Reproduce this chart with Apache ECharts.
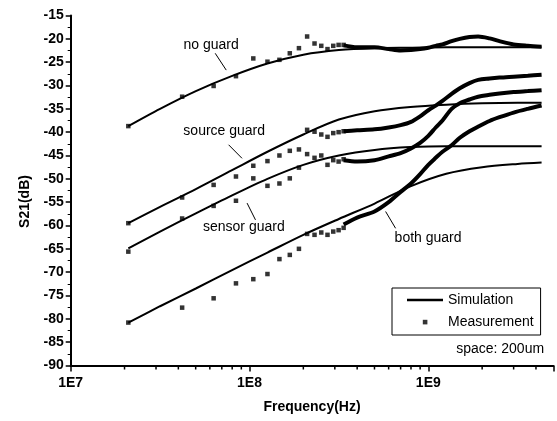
<!DOCTYPE html>
<html><head><meta charset="utf-8">
<script src="https://cdn.jsdelivr.net/npm/echarts@6/dist/echarts.min.js"></script>
<style>html,body{margin:0;padding:0;background:#fff}#c{width:557px;height:421px}</style>
</head><body><div id="c"></div>
<script>
// ---- measured discrete points (linear sweep, 21 MHz steps) ----
const measFreq = [2.1e7, 4.2e7, 6.3e7, 8.4e7, 1.05e8, 1.26e8, 1.47e8, 1.68e8, 1.89e8, 2.1e8, 2.31e8, 2.52e8, 2.73e8, 2.94e8, 3.15e8, 3.36e8];
const noGuardMeas  = [-38.7, -32.4, -30.1, -28.0, -24.2, -24.9, -24.5, -23.1, -22.0, -19.5, -21.0, -21.5, -22.2, -21.5, -21.3, -21.3];
const sourceMeas   = [-59.5, -54.0, -51.3, -49.5, -47.2, -46.2, -45.0, -44.0, -43.7, -39.5, -39.9, -40.5, -41.0, -40.2, -40.0, -39.8];
const sensorMeas   = [-65.6, -58.5, -55.8, -54.7, -49.9, -51.5, -51.0, -49.9, -47.6, -44.7, -45.5, -45.0, -47.0, -46.0, -46.3, -45.8];
const bothMeas     = [-80.8, -77.6, -75.6, -72.4, -71.5, -70.4, -67.2, -66.3, -65.0, -61.8, -62.0, -61.5, -62.0, -61.3, -61.0, -60.5];

// ---- measured dense part (drawn as thick trace) ----
const denseFreq = [3.36e8, 4e8, 5e8, 6e8, 7e8, 8e8, 9e8, 1e9, 1.1e9, 1.2e9, 1.35e9, 1.5e9, 1.7e9, 1.9e9, 2.2e9, 2.5e9, 3e9, 3.6e9, 4.3e9];
const noGuardDense = [-21.4, -21.8, -21.8, -22.2, -22.5, -22.4, -22.2, -21.9, -21.5, -21.2, -20.5, -20.0, -19.6, -19.5, -19.9, -20.5, -21.2, -21.5, -21.7];
const sourceDense  = [-39.8, -39.6, -39.4, -39.0, -38.5, -37.8, -36.6, -35.3, -34.3, -33.3, -31.8, -30.6, -29.5, -28.8, -28.5, -28.3, -28.1, -27.9, -27.7];
const sensorDense  = [-46.0, -46.3, -46.0, -45.2, -44.5, -43.5, -42.3, -40.8, -39.0, -37.5, -35.0, -33.8, -33.0, -32.4, -32.0, -31.7, -31.4, -31.2, -31.0];
const bothDense    = [-59.8, -58.3, -57.0, -55.0, -52.8, -51.0, -49.0, -47.0, -45.5, -44.2, -42.8, -41.2, -39.8, -38.8, -37.6, -36.8, -35.8, -35.0, -34.3];

// ---- simulation ----
const simFreq = [2.1e7, 3.16e7, 5.01e7, 7.94e7, 1.26e8, 2.0e8, 3.16e8, 5.01e8, 7.94e8, 1.26e9, 2.0e9, 3.16e9, 4.3e9];
const noGuardSim = [-38.7, -35.0, -31.2, -28.0, -25.3, -23.4, -22.4, -22.0, -21.9, -21.8, -21.8, -21.8, -21.8];
const sourceSim  = [-59.5, -56.0, -52.2, -48.2, -44.2, -40.5, -37.3, -35.5, -34.6, -34.1, -33.8, -33.7, -33.7];
const sensorSim  = [-64.9, -61.3, -57.4, -53.6, -50.0, -47.0, -45.0, -43.8, -43.2, -43.0, -43.0, -43.0, -43.0];
const bothSim    = [-80.8, -77.3, -73.5, -69.6, -65.8, -62.0, -58.6, -55.3, -51.6, -48.9, -47.5, -46.8, -46.5];

// ---- axis ticks / labels ----
const yTickStep = 5;
const minorTickFreq = [2e7,3e7,4e7,5e7,6e7,7e7,8e7,9e7,2e8,3e8,4e8,5e8,6e8,7e8,8e8,9e8,2e9,3e9,4e9];

// ---- annotation texts (data coordinates) ----
const labelTexts = ['no guard', 'source guard', 'sensor guard', 'both guard'];
const labelAt = [[6.1e7, -21.3], [7.22e7, -39.75], [9.3e7, -60.4], [9.97e8, -62.7]];
const arrowFrom = [[6.43e7, -23.1], [7.64e7, -42.7], [1.08e8, -58.8], [5.77e8, -57.0]];
const arrowTo   = [[7.41e7, -26.7], [9.08e7, -45.6], [9.69e7, -55.2], [6.56e8, -60.6]];
const noteText = 'space: 200um';
const noteAt = [4.44e9, -86.45];

const FONT = '"Liberation Sans", Arial, sans-serif';
const pairs = (xs, ys) => xs.map((x, i) => [x, ys[i]]);

const chart = echarts.init(document.getElementById('c'), null, {renderer: 'canvas'});

const simSeries = [noGuardSim, sourceSim, sensorSim, bothSim].map(v => ({
  type: 'line', name: 'Simulation', data: pairs(simFreq, v), smooth: 0.3,
  symbol: 'none', color: '#000', lineStyle: {color: '#000', width: 2}, z: 3, silent: true
}));
const measSeries = [noGuardMeas, sourceMeas, sensorMeas, bothMeas].map(v => ({
  type: 'scatter', name: 'Measurement', data: pairs(measFreq, v), symbol: 'rect', symbolSize: 4.5,
  color: '#000', itemStyle: {color: '#000'}, z: 4, silent: true
}));
const denseSeries = [noGuardDense, sourceDense, sensorDense, bothDense].map(v => ({
  type: 'line', name: 'Measurement', data: pairs(denseFreq, v), smooth: 0.3,
  symbol: 'none', color: '#000', lineStyle: {color: '#000', width: 4}, z: 4, silent: true
}));

chart.setOption({
  animation: false,
  backgroundColor: '#fff',
  grid: {left: 70.7, right: 3.7, top: 15.5, bottom: 55.5, containLabel: false, outerBoundsMode: 'none'},
  xAxis: {
    type: 'log', logBase: 10, min: 1e7, max: 5e9,
    axisLine: {show: true, onZero: false, lineStyle: {color: '#000', width: 2}},
    axisTick: {show: true, inside: false, length: 6, lineStyle: {color: '#000', width: 1.5}},
    minorTick: {show: false},
    splitLine: {show: false},
    axisLabel: {
      color: '#000', fontWeight: 'bold', fontSize: 14, fontFamily: FONT, margin: 11, hideOverlap: false,
      formatter: v => { const l = Math.log10(v); return Math.abs(l - Math.round(l)) < 1e-6 ? '1E' + Math.round(l) : ''; }
    },
    name: 'Frequency(Hz)', nameLocation: 'middle', nameGap: 35,
    nameTextStyle: {color: '#000', fontWeight: 'bold', fontSize: 14, fontFamily: FONT}
  },
  yAxis: {
    type: 'value', min: -90, max: -15, interval: yTickStep,
    axisLine: {show: true, onZero: false, lineStyle: {color: '#000', width: 2}},
    axisTick: {show: true, inside: false, length: 5, lineStyle: {color: '#000', width: 1.5}},
    minorTick: {show: true, splitNumber: 2, length: 3, lineStyle: {color: '#000', width: 1}},
    splitLine: {show: false}, minorSplitLine: {show: false},
    axisLabel: {color: '#000', fontWeight: 'bold', fontSize: 14, fontFamily: FONT, margin: 7, hideOverlap: false},
    name: 'S21(dB)', nameLocation: 'middle', nameGap: 39,
    nameTextStyle: {color: '#000', fontWeight: 'bold', fontSize: 14, fontFamily: FONT, padding: [0, 22, 0, 0]}
  },
  legend: {
    left: 392, top: 288, orient: 'vertical', itemWidth: 36, itemHeight: 14, itemGap: 8,
    padding: [5, 7, 6, 15], borderColor: '#000', borderWidth: 1, borderRadius: 0, backgroundColor: '#fff',
    symbolKeepAspect: true, selectedMode: false,
    textStyle: {fontSize: 14, color: '#000', fontFamily: FONT},
    data: [
      {name: 'Simulation', icon: 'path://M0 5.8L36 5.8L36 8.4L0 8.4Z', itemStyle: {color: '#000'}},
      {name: 'Measurement', icon: 'path://M0 0M14 14M4.8 4.8L9.4 4.8L9.4 9.4L4.8 9.4Z', itemStyle: {color: '#000'}}
    ]
  },
  series: [
    ...simSeries, ...measSeries, ...denseSeries,
    {
      type: 'custom', silent: true, clip: false, z: 5,
      data: minorTickFreq.map(f => [f, -90]),
      encode: {x: 0, y: 1},
      renderItem: (params, api) => {
        const p = api.coord([api.value(0), api.value(1)]);
        return {type: 'line', shape: {x1: p[0], y1: p[1], x2: p[0], y2: p[1] + 4}, style: {stroke: '#000', lineWidth: 1.5}};
      }
    }
  ]
});

const P = (pt) => chart.convertToPixel({gridIndex: 0}, pt);
const graphics = [];
labelTexts.forEach((t, i) => {
  const c = P(labelAt[i]);
  graphics.push({type: 'text', x: c[0], y: c[1], silent: true, z: 10,
    style: {text: t, fill: '#000', font: '14px ' + FONT, align: 'center', verticalAlign: 'middle'}});
  const a = P(arrowFrom[i]), b = P(arrowTo[i]);
  graphics.push({type: 'line', silent: true, z: 10, shape: {x1: a[0], y1: a[1], x2: b[0], y2: b[1]},
    style: {stroke: '#000', lineWidth: 1}});
});
const n = P(noteAt);
graphics.push({type: 'text', x: n[0], y: n[1], silent: true, z: 10,
  style: {text: noteText, fill: '#000', font: '14px ' + FONT, align: 'right', verticalAlign: 'middle'}});
chart.setOption({graphic: graphics});
</script>
</body></html>
